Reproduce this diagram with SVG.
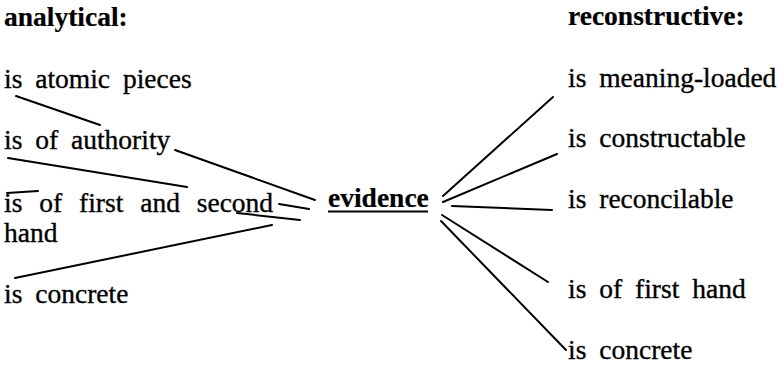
<svg xmlns="http://www.w3.org/2000/svg" width="783" height="368" viewBox="0 0 783 368">
<style>
text{font-family:'Liberation Serif','Times New Roman',serif;font-size:27.5px;fill:#000;stroke:#000;stroke-width:0.35px;word-spacing:6px}
.b{font-weight:bold;word-spacing:0;stroke-width:0.2px}
.c line{stroke:#000;stroke-width:2;stroke-linecap:round}
</style>
<rect width="783" height="368" fill="#fff"/>
<g id="hdr-analytical"><text class="b" x="4" y="26">analytical:</text></g>
<g id="hdr-reconstructive"><text class="b" x="568" y="25">reconstructive:</text></g>
<g id="n-atomic"><text x="4" y="88">is atomic pieces</text></g>
<g id="n-authority"><text x="4" y="149">is of authority</text></g>
<g id="n-firstsecond"><text x="4" y="212" style="word-spacing:10px">is of first and second</text><text x="4" y="242">hand</text></g>
<g id="n-concrete-l"><text x="4" y="303">is concrete</text></g>
<g id="n-evidence"><text class="b" x="328" y="207">evidence</text><line x1="328" y1="211.5" x2="428" y2="211.5" stroke="#000" stroke-width="2"/></g>
<g id="n-meaning"><text x="568" y="87">is meaning-loaded</text></g>
<g id="n-constructable"><text x="568" y="147">is constructable</text></g>
<g id="n-reconcilable"><text x="568" y="208">is reconcilable</text></g>
<g id="n-firsthand"><text x="568" y="298">is of first hand</text></g>
<g id="n-concrete-r"><text x="568" y="359">is concrete</text></g>
<g id="connectors" class="c">
<line x1="16" y1="96" x2="100" y2="125"/>
<line x1="8" y1="158" x2="187" y2="187"/>
<line x1="175" y1="150" x2="315" y2="200"/>
<line x1="7" y1="193" x2="38" y2="191"/>
<line x1="279" y1="204" x2="309" y2="209"/>
<line x1="237" y1="213" x2="300" y2="220"/>
<line x1="15" y1="278" x2="272" y2="225"/>
<line x1="443" y1="196" x2="553" y2="97"/>
<line x1="443" y1="202" x2="557" y2="154"/>
<line x1="452" y1="206" x2="552" y2="210"/>
<line x1="442" y1="215" x2="548" y2="282"/>
<line x1="441" y1="221" x2="566" y2="350"/>
</g>
</svg>
